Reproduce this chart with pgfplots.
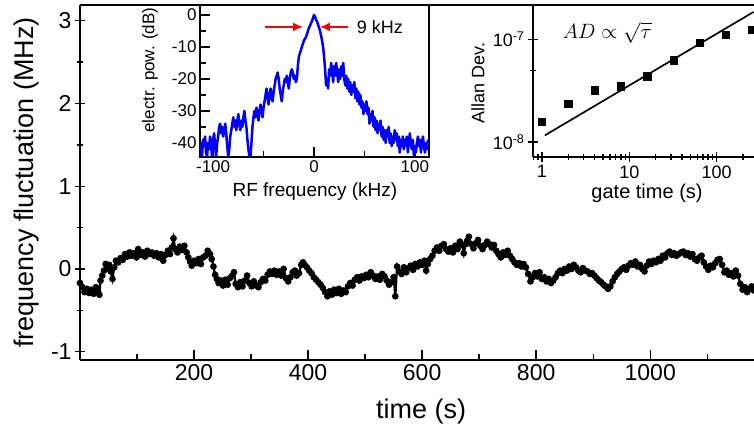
\documentclass[border=0pt]{standalone}
\usepackage{fontspec}
\setmainfont{Liberation Sans}
\usepackage{pgfplots}
\pgfplotsset{compat=1.18}
\usetikzlibrary{arrows.meta}

\pgfplotsset{
  every axis/.append style={
    scale only axis,
    /pgf/number format/assume math mode=true,
    /pgf/number format/1000 sep={},
    tick align=inside,
    axis line style={line width=1.7pt},
    every tick/.style={black, line width=1.4pt},
    major tick length=10pt,
    minor tick length=6pt,
  },
}

\begin{document}
\begin{tikzpicture}
% main trace
\begin{axis}[
  name=main, at={(0,0)}, anchor=south west,
  width=674pt, height=355pt,
  xmin=0, xmax=1182, ymin=-1.1, ymax=3.19,
  axis x line=box, axis y line=left,
  x axis line style={-}, y axis line style={-},
  xtick pos=left, ytick pos=left,
  xtick={200,400,...,1000}, minor xtick={100,300,...,1100},
  ytick={-1,0,1,2,3}, minor ytick={-0.5,0.5,1.5,2.5},
  tick label style={font=\fontsize{23}{25}\selectfont},
  xticklabel style={yshift=-1pt},
  label style={font=\fontsize{27}{30}\selectfont},
  xlabel={time (s)}, ylabel={frequency fluctuation (MHz)},
  xlabel style={at={(axis description cs:0.506,-0.144)}, anchor=center},
  ylabel style={at={(axis description cs:-0.08,0.5)}, anchor=center},
]
\addplot[black, line width=2.2pt, mark=*, mark size=2.2pt] coordinates {
(0,-0.17) (4,-0.22) (8,-0.28) (12,-0.24) (16,-0.29) (20,-0.25) (24,-0.30) (28,-0.22) (31,-0.27) (34,-0.31)
(36,-0.14) (39,-0.08) (42,-0.02) (45,0.06) (48,0.01) (51,0.05) (54,-0.03) (57,-0.12) (60,0.02) (63,0.10)
(67,0.08) (71,0.13) (75,0.11) (79,0.18) (83,0.15) (87,0.20) (91,0.16) (95,0.19) (99,0.14) (102,0.24)
(106,0.17) (110,0.20) (114,0.15) (118,0.22) (122,0.18) (126,0.20) (130,0.16) (134,0.19) (138,0.14) (142,0.18)
(146,0.10) (150,0.17) (154,0.22) (158,0.18) (161,0.26) (164,0.37) (167,0.24) (171,0.20) (175,0.27) (179,0.23)
(183,0.28) (187,0.20) (190,0.14) (193,0.09) (196,0.04) (200,0.10) (204,0.07) (208,0.12) (212,0.06) (216,0.14)
(220,0.16) (224,0.22) (228,0.18) (231,0.12) (234,0.03) (237,-0.07) (240,-0.12) (243,-0.17) (247,-0.14) (251,-0.20)
(255,-0.13) (259,-0.19) (263,-0.11) (267,-0.08) (270,-0.04) (273,-0.18) (277,-0.22) (281,-0.16) (285,-0.21) (289,-0.14)
(293,-0.08) (297,-0.17) (301,-0.21) (305,-0.15) (309,-0.20) (313,-0.22) (317,-0.16) (321,-0.12) (325,-0.14) (329,-0.07)
(333,-0.03) (337,-0.06) (341,-0.02) (345,-0.07) (349,-0.03) (353,-0.08) (357,0.00) (361,-0.11) (365,-0.15) (369,-0.10)
(373,-0.04) (377,-0.02) (380,-0.08) (384,-0.05) (388,0.05) (391,0.08) (394,0.05) (398,0.02) (402,-0.02) (406,-0.05)
(410,-0.10) (414,-0.13) (418,-0.16) (422,-0.19) (426,-0.23) (430,-0.28) (434,-0.33) (438,-0.27) (442,-0.31) (446,-0.25)
(450,-0.29) (454,-0.24) (458,-0.30) (462,-0.26) (466,-0.28) (470,-0.21) (474,-0.17) (478,-0.20) (482,-0.13) (486,-0.10)
(490,-0.14) (494,-0.09) (498,-0.11) (502,-0.07) (506,-0.10) (510,-0.04) (514,-0.08) (518,-0.12) (522,-0.09) (526,-0.13)
(530,-0.06) (534,-0.09) (538,-0.14) (542,-0.19) (546,-0.16) (550,-0.10) (553,-0.33) (556,0.03) (560,-0.03) (564,-0.06)
(568,0.02) (572,-0.04) (576,0.01) (580,0.04) (584,-0.01) (588,0.06) (592,0.03) (596,0.08) (600,0.05) (604,0.10)
(607,-0.02) (610,0.06) (614,0.12) (618,0.16) (622,0.22) (626,0.26) (630,0.22) (634,0.28) (638,0.30) (642,0.24)
(646,0.21) (650,0.25) (654,0.20) (658,0.28) (662,0.24) (666,0.33) (670,0.29) (673,0.19) (676,0.30) (679,0.34)
(682,0.39) (686,0.30) (690,0.25) (694,0.31) (698,0.35) (702,0.28) (706,0.24) (710,0.29) (714,0.33) (718,0.30)
(722,0.26) (726,0.29) (730,0.22) (734,0.18) (738,0.14) (742,0.20) (746,0.17) (750,0.22) (754,0.16) (758,0.12)
(762,0.08) (766,0.05) (770,0.07) (774,0.03) (778,0.06) (782,0.02) (786,-0.06) (790,-0.15) (794,-0.10) (798,-0.05)
(802,-0.09) (806,-0.04) (810,-0.12) (814,-0.10) (818,-0.15) (822,-0.12) (826,-0.17) (830,-0.14) (834,-0.10) (838,-0.05)
(842,-0.02) (846,-0.05) (850,0.00) (854,-0.02) (858,0.03) (862,0.00) (866,0.05) (870,0.02) (874,-0.02) (878,-0.04)
(882,0.01) (886,-0.02) (890,-0.03) (894,-0.06) (898,-0.05) (902,-0.08) (906,-0.11) (910,-0.14) (914,-0.16) (918,-0.19)
(922,-0.21) (926,-0.24) (930,-0.21) (934,-0.15) (938,-0.10) (942,-0.06) (946,-0.03) (950,0.00) (954,0.02) (958,-0.01)
(962,0.04) (966,0.07) (970,0.05) (974,0.09) (978,0.03) (982,0.05) (986,0.00) (990,-0.03) (994,0.04) (998,0.09)
(1002,0.06) (1006,0.10) (1010,0.08) (1014,0.12) (1018,0.10) (1022,0.16) (1026,0.14) (1030,0.19) (1034,0.21) (1038,0.17)
(1042,0.19) (1046,0.16) (1050,0.18) (1054,0.20) (1058,0.21) (1062,0.17) (1066,0.19) (1070,0.15) (1074,0.18) (1078,0.12)
(1082,0.10) (1086,0.14) (1090,0.16) (1094,0.08) (1098,0.03) (1102,-0.01) (1106,0.04) (1110,0.02) (1114,0.07) (1118,0.11)
(1122,0.12) (1126,0.05) (1130,-0.04) (1134,-0.02) (1138,-0.07) (1142,-0.05) (1146,-0.09) (1150,-0.02) (1154,-0.08) (1158,-0.18)
(1162,-0.25) (1166,-0.22) (1170,-0.28) (1174,-0.24) (1178,-0.21) (1182,-0.26)
};
\end{axis}

% inset: RF spectrum
\begin{axis}[
  at={(120pt,203pt)}, anchor=south west,
  width=229pt, height=152pt,
  xmin=-113, xmax=114, ymin=-44.4, ymax=3.1,
  tick pos=left,
  xtick={-100,0,100}, minor xtick={-50,50},
  ytick={-40,-30,...,0}, minor ytick={-35,-25,...,-5},
  tick label style={font=\fontsize{17}{19}\selectfont},
  xlabel={RF frequency (kHz)}, ylabel={electr. pow. (dB)},
  xlabel style={font=\fontsize{19}{21}\selectfont, at={(axis description cs:0.502,-0.23)}, anchor=center},
  ylabel style={font=\fontsize{17}{19}\selectfont, at={(axis description cs:-0.218,0.572)}, anchor=center},
]
\addplot[blue, line width=2.5pt, line join=round] coordinates {
(-113,-40) (-112,-43) (-111,-44.4) (-110,-39) (-109,-41) (-108,-38) (-107,-43) (-106,-44.4) (-105,-40) (-104,-42)
(-103,-38) (-102,-41) (-101,-44.4) (-100,-39) (-99,-37) (-98,-41) (-97,-44.4) (-96,-40) (-95,-38) (-94,-35)
(-93,-34) (-92,-37) (-91,-35) (-90,-38) (-89,-36) (-88,-34) (-87,-37) (-86,-41) (-85,-44.4) (-84,-42)
(-83,-38) (-82,-36) (-81,-34) (-80,-32) (-79,-35) (-78,-33) (-77,-36) (-76,-33) (-75,-31) (-74,-34)
(-73,-36) (-72,-33) (-71,-35) (-70,-32) (-69,-30) (-68,-33) (-67,-35) (-66,-39) (-65,-42) (-64,-44.4)
(-63,-44.4) (-62,-40) (-61,-35) (-60,-32) (-59,-30) (-58,-32) (-57,-29) (-56,-31) (-55,-33) (-54,-30)
(-53,-28) (-52,-30) (-51,-32) (-50,-29) (-49,-27) (-48,-25) (-47,-23) (-46,-26) (-45,-28) (-44,-25)
(-43,-23) (-42,-26) (-41,-27) (-40,-24) (-39,-22) (-38,-20) (-37,-19) (-36,-18) (-35,-20) (-34,-23)
(-33,-25) (-32,-27) (-31,-24) (-30,-22) (-29,-20) (-28,-21) (-27,-19) (-26,-21) (-25,-23) (-24,-20)
(-23,-18) (-22,-17) (-21,-18) (-20,-20) (-19,-19) (-18,-21) (-17,-20) (-16,-16) (-15,-13) (-14,-12)
(-13,-11) (-12,-10) (-11,-9) (-10,-8) (-9,-7.5) (-8,-7) (-7,-6) (-6,-5) (-5,-4) (-4,-3.5)
(-3,-2.5) (-2,-2) (-1,-1) (0,0) (1,-0.5) (2,-1.5) (3,-2) (4,-3) (5,-4) (6,-5)
(7,-6.5) (8,-8) (9,-10) (10,-13) (11,-17) (12,-22) (13,-20) (14,-23) (15,-17) (16,-19)
(17,-15) (18,-18) (19,-21) (20,-16) (21,-19) (22,-15) (23,-18) (24,-21) (25,-17) (26,-20)
(27,-16) (28,-19) (29,-15) (30,-20) (31,-22) (32,-19) (33,-23) (34,-20) (35,-24) (36,-21)
(37,-25) (38,-22) (39,-24) (40,-21) (41,-26) (42,-23) (43,-27) (44,-24) (45,-28) (46,-25)
(47,-29) (48,-27) (49,-31) (50,-28) (51,-30) (52,-27) (53,-31) (54,-29) (55,-34) (56,-31)
(57,-33) (58,-30) (59,-35) (60,-32) (61,-36) (62,-33) (63,-37) (64,-34) (65,-36) (66,-33)
(67,-38) (68,-35) (69,-39) (70,-36) (71,-40) (72,-36) (73,-38) (74,-35) (75,-40) (76,-37)
(77,-41) (78,-38) (79,-40) (80,-36) (81,-39) (82,-37) (83,-41) (84,-38) (85,-43) (86,-39)
(87,-41) (88,-38) (89,-42) (90,-39) (91,-41) (92,-38) (93,-43) (94,-40) (95,-37) (96,-40)
(97,-42) (98,-39) (99,-44) (100,-41) (101,-43) (102,-40) (103,-38) (104,-41) (105,-39) (106,-43)
(107,-40) (108,-38) (109,-41) (110,-43) (111,-40) (112,-42) (113,-39)
};
\draw[red, line width=1.6pt, -{Latex[length=10pt,width=9pt]}] (axis cs:-48.5,-3.75) -- (axis cs:-10.9,-3.75);
\draw[red, line width=1.6pt, -{Latex[length=10pt,width=9pt]}] (axis cs:33.7,-3.75) -- (axis cs:5.9,-3.75);
\node[anchor=west, font=\fontsize{18}{20}\selectfont] at (axis cs:39,-3.75) {9 kHz};
\end{axis}

% inset: Allan deviation
\begin{axis}[
  at={(453pt,203pt)}, anchor=south west,
  width=221pt, height=152pt,
  xmode=log, ymode=log,
  xmin=0.79, xmax=268, ymin=7.14e-9, ymax=2.16e-7,
  axis lines=left, x axis line style={-}, y axis line style={-},
  tick pos=left,
  xtick={1,10,100}, xticklabels={1,10,100},
  minor xtick={0.8,0.9,2,3,4,5,6,7,8,9,20,30,40,50,60,70,80,90,200},
  ytick={1e-8,1e-7}, yticklabels={10\textsuperscript{-8},10\textsuperscript{-7}},
  minor ytick={5e-8},
  tick label style={font=\fontsize{18}{20}\selectfont},
  xlabel={gate time (s)}, ylabel={Allan Dev.},
  xlabel style={font=\fontsize{20}{22}\selectfont, at={(axis description cs:0.516,-0.237)}, anchor=center},
  ylabel style={font=\fontsize{18}{20}\selectfont, at={(axis description cs:-0.249,0.487)}, anchor=center},
]
\addplot[black, only marks, mark=square*, mark size=3.6pt] coordinates {
(1,1.57e-8) (2,2.37e-8) (4,3.2e-8) (8,3.5e-8) (16,4.37e-8) (32,6.26e-8) (64,9.27e-8) (128,1.1e-7) (256,1.25e-7)
};
\addplot[black, line width=1.7pt] coordinates {(1.08,1.16e-8) (265,1.85e-7)};
\node[font=\fontsize{21}{23}\selectfont] at (axis cs:5.6,1.15e-7) {$AD \propto \sqrt{\tau}$};
\end{axis}

\pgfresetboundingbox
\path (-80pt,-73pt) rectangle (674pt,360pt);
\end{tikzpicture}
\end{document}
